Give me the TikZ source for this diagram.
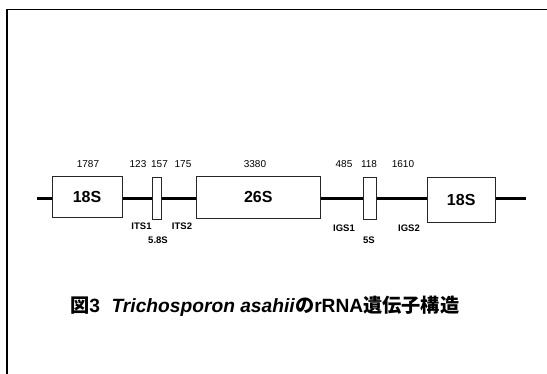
\documentclass[tikz,border=0pt]{standalone}
\usepackage{fontspec}
\setmainfont{Liberation Sans}
\newfontfamily\cjk{Noto Sans CJK JP}
\begin{document}
\begin{tikzpicture}[x=1pt,y=-1pt,
  gene/.style={draw=black!85,line width=0.8pt,fill=white,inner sep=0pt,font=\bfseries\fontsize{16}{16}\selectfont},
  num/.style={anchor=base,font=\fontsize{10}{10}\selectfont,inner sep=0pt},
  lab/.style={anchor=base,font=\bfseries\fontsize{9.5}{10}\selectfont,inner sep=0pt}]
\useasboundingbox (0,0) rectangle (547,374);
% frame
\draw[line width=1.6pt] (7,374) -- (7,9.5) -- (547,9.5);
% backbone
\coordinate (L) at (37,199);
\coordinate (R) at (526,199);
\draw[line width=3pt] (L) -- (R);
% boxes
\node[gene,minimum width=70pt,minimum height=41pt] (b18a) at (87,196.5) {18S};
\node[gene,minimum width=9pt,minimum height=42pt] (b58) at (157.2,198) {};
\node[gene,minimum width=124.7pt,minimum height=41.5pt] (b26) at (258.3,197.3) {26S};
\node[gene,minimum width=12.7pt,minimum height=42pt] (b5) at (369.7,198) {};
\node[gene,minimum width=67.7pt,minimum height=45pt] (b18b) at (461.2,199.8) {18S};
% lengths
\node[num] (n1) at (88,167.5) {1787};
\node[num] (n2) at (138,167.5) {123};
\node[num] (n3) at (159.5,167.5) {157};
\node[num] (n4) at (183,167.5) {175};
\node[num] (n5) at (255,167.5) {3380};
\node[num] (n6) at (344,167.5) {485};
\node[num] (n7) at (369,167.5) {118};
\node[num] (n8) at (403,167.5) {1610};
% labels
\node[lab] (its1) at (141.5,229.5) {ITS1};
\node[lab] (its2) at (182,229.5) {ITS2};
\node[lab] (s58) at (158,243.5) {5.8S};
\node[lab] (igs1) at (344,231.7) {IGS1};
\node[lab] (igs2) at (409,231.7) {IGS2};
\node[lab] (s5) at (369,244) {5S};
% caption
\node[anchor=base west,inner sep=0pt,font=\bfseries\fontsize{19.2}{20}\selectfont] (cap) at (70,313)
  {{\cjk\bfseries 図}3\hspace{0.6em}\textit{Trichosporon asahii}{\cjk\bfseries の}rRNA{\cjk\bfseries 遺伝子構造}};
\end{tikzpicture}
\end{document}
